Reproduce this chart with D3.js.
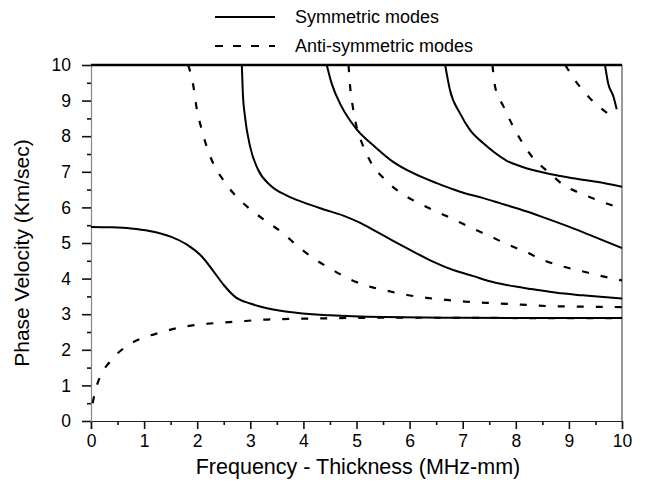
<!DOCTYPE html>
<html>
<head>
<meta charset="utf-8">
<script src="https://cdn.jsdelivr.net/npm/d3@7"></script>
<style>
  html, body { margin: 0; padding: 0; background: #fff; }
  svg { display: block; font-family: "Liberation Sans", Arial, sans-serif; }
</style>
</head>
<body>
<svg id="chart" width="645" height="483"></svg>
<script>
// Lamb wave dispersion curves: phase velocity vs frequency-thickness
const xTicks = [0, 1, 2, 3, 4, 5, 6, 7, 8, 9, 10];
const yTicks = [0, 1, 2, 3, 4, 5, 6, 7, 8, 9, 10];
const legendLabels = ["Symmetric modes", "Anti-symmetric modes"];
const xTitle = "Frequency - Thickness (MHz-mm)";
const yTitle = "Phase Velocity (Km/sec)";

// Symmetric modes [fd, Vp]
const s0 = [[0,5.45],[0.4,5.44],[0.75,5.41],[1.1,5.34],[1.5,5.18],[1.8,4.96],[2.1,4.6],[2.3,4.22],[2.5,3.82],[2.72,3.48],[3.0,3.3],[3.2,3.21],[3.7,3.07],[4.5,2.97],[5.5,2.92],[7,2.9],[8.5,2.89],[10,2.89]];
const s1 = [[2.84,10],[2.86,9.2],[2.9,8.55],[2.99,7.75],[3.15,7.05],[3.37,6.63],[3.69,6.33],[4.0,6.14],[4.37,5.95],[4.75,5.77],[5.05,5.58],[5.35,5.34],[5.69,5.06],[6.07,4.76],[6.45,4.47],[6.82,4.24],[7.2,4.07],[7.55,3.91],[7.83,3.82],[8.33,3.7],[8.77,3.6],[9.27,3.53],[9.65,3.48],[10,3.44]];
const s2 = [[4.44,10],[4.53,9.49],[4.72,8.83],[5.0,8.2],[5.35,7.7],[5.69,7.28],[6.07,6.96],[6.51,6.68],[6.95,6.44],[7.39,6.26],[7.7,6.12],[8.05,5.96],[8.52,5.72],[8.96,5.48],[9.4,5.22],[10,4.86]];
const s3 = [[6.67,10],[6.76,9.3],[6.95,8.64],[7.14,8.17],[7.39,7.8],[7.6,7.54],[7.83,7.31],[8.1,7.15],[8.64,6.94],[9.08,6.82],[9.52,6.72],[10,6.58]];
const s4 = [[9.68,10],[9.74,9.48],[9.84,9.11],[9.9,8.76]];

// Anti-symmetric modes [fd, Vp]
const a0 = [[0.03,0.5],[0.1,0.95],[0.17,1.24],[0.36,1.67],[0.61,2.04],[0.95,2.32],[1.3,2.48],[1.68,2.63],[2.05,2.71],[2.74,2.79],[3.31,2.85],[4.25,2.88],[5.5,2.9],[7,2.9],[8.5,2.89],[10,2.89]];
const a1 = [[1.83,10],[1.93,9.39],[1.99,8.78],[2.07,8.27],[2.17,7.75],[2.3,7.24],[2.49,6.77],[2.74,6.3],[2.99,5.96],[3.31,5.6],[3.62,5.27],[3.9,4.9],[4.19,4.57],[4.53,4.26],[4.88,3.98],[5.19,3.8],[5.57,3.66],[5.95,3.54],[6.32,3.46],[6.7,3.4],[7.07,3.35],[7.45,3.32],[7.83,3.29],[8.2,3.26],[8.58,3.23],[9.34,3.21],[10,3.2]];
const a2 = [[4.85,10],[4.88,9.39],[4.93,8.83],[5.0,8.27],[5.11,7.78],[5.28,7.24],[5.51,6.82],[5.82,6.42],[6.13,6.15],[6.45,5.92],[6.82,5.67],[7.14,5.44],[7.5,5.2],[7.83,4.97],[8.17,4.76],[8.52,4.52],[8.86,4.35],[9.24,4.21],[9.62,4.07],[10,3.95]];
const a3 = [[7.56,10],[7.61,9.39],[7.77,8.83],[7.92,8.36],[8.11,7.85],[8.33,7.38],[8.61,7.0],[8.9,6.63],[9.21,6.4],[9.55,6.2],[10,5.96]];
const a4 = [[8.93,10],[9.18,9.44],[9.4,9.06],[9.75,8.62]];

const symmetric = [s0, s1, s2, s3, s4];
const antisymmetric = [a0, a1, a2, a3, a4];

const svg = d3.select("#chart");
const margin = { left: 91, right: 23, top: 65, bottom: 62 };
const W = 645, H = 483;
const x = d3.scaleLinear().domain([0, 10]).range([margin.left, W - margin.right]);
const y = d3.scaleLinear().domain([0, 10]).range([H - margin.bottom, margin.top]);

svg.append("defs").append("clipPath").attr("id", "plot-clip")
  .append("rect")
  .attr("x", x(0)).attr("y", y(10))
  .attr("width", x(10) - x(0)).attr("height", y(0) - y(10));

// axes with half-unit minor ticks
const minor = d3.range(0.5, 10, 1);
const gx = svg.append("g").attr("transform", `translate(0,${y(0)})`);
gx.call(d3.axisBottom(x).tickValues(xTicks).tickFormat(d3.format("d")).tickSize(8).tickPadding(6));
gx.append("g").call(d3.axisBottom(x).tickValues(minor).tickFormat("").tickSize(4))
  .select(".domain").remove();

const gy = svg.append("g").attr("transform", `translate(${x(0)},0)`);
gy.call(d3.axisLeft(y).tickValues(yTicks).tickFormat(d3.format("d")).tickSize(9).tickPadding(11));
gy.append("g").call(d3.axisLeft(y).tickValues(minor).tickFormat("").tickSize(4))
  .select(".domain").remove();

svg.selectAll(".tick text").attr("font-size", 17.5).attr("fill", "#000")
  .attr("font-family", "'Liberation Sans', Arial, sans-serif");
svg.selectAll(".tick line").attr("stroke", "#111").attr("stroke-width", 1.6);
gx.select(".domain").attr("stroke", "#222").attr("stroke-width", 1.2);
gy.select(".domain").attr("stroke", "#888").attr("stroke-width", 1.2);

// frame: heavy top edge, thin right edge
svg.append("line").attr("x1", x(0)).attr("x2", x(10)).attr("y1", y(10)).attr("y2", y(10))
  .attr("stroke", "#000").attr("stroke-width", 2.4);
svg.append("line").attr("x1", x(10)).attr("x2", x(10)).attr("y1", y(10)).attr("y2", y(0))
  .attr("stroke", "#333").attr("stroke-width", 1);

const line = d3.line().x(d => x(d[0])).y(d => y(d[1])).curve(d3.curveMonotoneX);
const plot = svg.append("g").attr("clip-path", "url(#plot-clip)");

plot.selectAll("path.anti").data(antisymmetric).join("path")
  .attr("class", "anti")
  .attr("d", line)
  .attr("fill", "none").attr("stroke", "#000").attr("stroke-width", 2.2)
  .attr("stroke-dasharray", "7,12");

plot.selectAll("path.sym").data(symmetric).join("path")
  .attr("class", "sym")
  .attr("d", line)
  .attr("fill", "none").attr("stroke", "#000").attr("stroke-width", 2);

// legend
const legend = svg.append("g");
const legendRows = [
  { label: legendLabels[0], y: 17, dash: null },
  { label: legendLabels[1], y: 46, dash: "8,10" }
];
legendRows.forEach(r => {
  legend.append("line").attr("x1", 215).attr("x2", 275).attr("y1", r.y).attr("y2", r.y)
    .attr("stroke", "#000").attr("stroke-width", 2)
    .attr("stroke-dasharray", r.dash);
  legend.append("text").attr("x", 295).attr("y", r.y).attr("dy", "0.35em")
    .attr("font-size", 18).attr("fill", "#000").text(r.label);
});

// axis titles
svg.append("text").attr("x", 358).attr("y", 474)
  .attr("text-anchor", "middle").attr("font-size", 21.5).attr("fill", "#000").text(xTitle);
svg.append("text").attr("transform", `translate(29,${(y(0) + y(10)) / 2 + 10}) rotate(-90)`)
  .attr("text-anchor", "middle").attr("font-size", 21).attr("fill", "#000").text(yTitle);
</script>
</body>
</html>
